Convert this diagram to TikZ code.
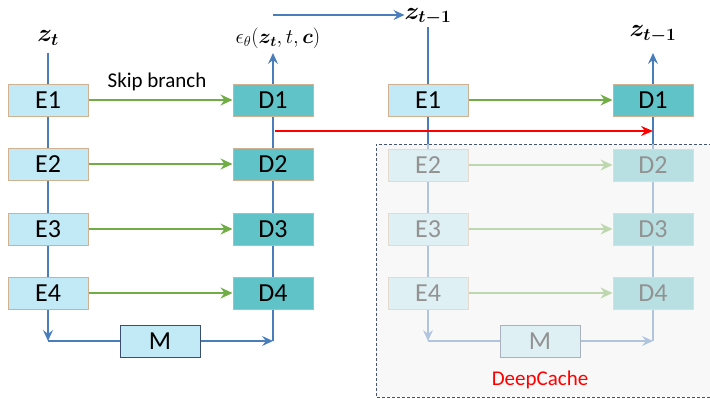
\documentclass[tikz,border=0pt]{standalone}
\usepackage{amsmath,bm}
\usepackage{fontspec}
\setmainfont{Carlito}
\usetikzlibrary{arrows.meta}
\definecolor{efill}{HTML}{C1EAF6}
\definecolor{eline}{HTML}{D2B193}
\definecolor{dfill}{HTML}{5FC3C8}
\definecolor{blueline}{HTML}{4A7EBB}
\definecolor{greenline}{HTML}{70AD47}
\definecolor{mline}{HTML}{3B4E6E}
\definecolor{ovgray}{HTML}{F4F4F4}
\definecolor{dashc}{HTML}{44546A}
\tikzset{
  ebox/.style={draw=eline, line width=1pt, fill=efill, minimum width=80pt, minimum height=32pt, inner sep=0pt, font=\fontsize{26}{28}\selectfont},
  dbox/.style={ebox, fill=dfill},
  mbox/.style={ebox, draw=mline},
  bl/.style={draw=blueline, line width=1.3pt},
  blarrow/.style={bl, -{Stealth[length=11pt,width=10pt,inset=4pt]}},
  grarrow/.style={draw=greenline, line width=1.6pt, -{Stealth[length=12pt,width=11pt,inset=4pt]}},
  redarrow/.style={draw=red, line width=1.3pt, -{Stealth[length=12pt,width=10pt,inset=4pt]}},
  mathlbl/.style={inner sep=0pt, font=\fontsize{20}{22}\selectfont},
  zlbl/.style={inner sep=0pt, font=\fontsize{24}{26}\selectfont},
}
\begin{document}
\begin{tikzpicture}[x=1pt,y=-1pt]
\useasboundingbox (0,0) rectangle (710,399);
% ---------- left network ----------
\node[zlbl] (zt) at (48,38) {$\bm{z_t}$};
\node[mathlbl] (eps) at (278,38) {$\epsilon_\theta(\bm{z_t},t,\bm{c})$};
\foreach \i/\y in {1/100,2/164,3/229,4/293}{
  \node[ebox] (LE\i) at (48,\y) {E\i};
  \node[dbox] (LD\i) at (273,\y) {D\i};
}
\node[mbox] (LM) at (160,341) {M};
\coordinate (Lc1) at (48,341);
\coordinate (Lc2) at (273,341);
\coordinate (ztl) at (48,53);
\coordinate (epsl) at (273,53);
\path[bl] (ztl) -- (LE1.north) (LE1.south) -- (LE2.north) (LE2.south) -- (LE3.north) (LE3.south) -- (LE4.north);
\draw[blarrow] (LE4.south) -- (Lc1);
\draw[bl] (Lc1) -- (LM.west);
\draw[blarrow] (LM.east) -- (Lc2);
\path[bl] (Lc2) -- (LD4.south) (LD4.north) -- (LD3.south) (LD3.north) -- (LD2.south) (LD2.north) -- (LD1.south);
\draw[blarrow] (LD1.north) -- (epsl);
\foreach \i in {1,2,3,4}{ \draw[grarrow] (LE\i.east) -- (LD\i.west); }
\node[inner sep=0pt, font=\fontsize{21}{23}\selectfont] (skip) at (157,82) {Skip branch};
% top arrow
\coordinate (topstart) at (273,15);
\node[zlbl, anchor=base] (zt1a) at (428,19) {$\bm{z_{t-1}}$};
\draw[blarrow] (topstart) -- (zt1a.west |- topstart);
% ---------- right network ----------
\node[zlbl] (zt1b) at (653,34) {$\bm{z_{t-1}}$};
\foreach \i/\y in {1/100,2/165,3/229,4/293}{
  \node[ebox] (RE\i) at (428,\y) {E\i};
  \node[dbox] (RD\i) at (653,\y) {D\i};
}
\node[mbox] (RM) at (540,341) {M};
\coordinate (Rc1) at (428,341);
\coordinate (Rc2) at (653,341);
\coordinate (ztr) at (428,27);
\coordinate (zt1bl) at (653,53);
\path[bl] (ztr) -- (RE1.north) (RE1.south) -- (RE2.north) (RE2.south) -- (RE3.north) (RE3.south) -- (RE4.north);
\draw[blarrow] (RE4.south) -- (Rc1);
\draw[bl] (Rc1) -- (RM.west);
\draw[blarrow] (RM.east) -- (Rc2);
\path[bl] (Rc2) -- (RD4.south) (RD4.north) -- (RD3.south) (RD3.north) -- (RD2.south) (RD2.north) -- (RD1.south);
\draw[blarrow] (RD1.north) -- (zt1bl);
\foreach \i in {1,2,3,4}{ \draw[grarrow] (RE\i.east) -- (RD\i.west); }
% ---------- DeepCache overlay ----------
\fill[ovgray, fill opacity=0.6] (376,144) rectangle (712,397);
\draw[dashc, line width=1pt, dash pattern=on 3pt off 2pt] (712,144) -- (376,144) -- (376,397) -- (712,397);
\node[red, inner sep=0pt, font=\fontsize{21}{23}\selectfont] (dc) at (540,380) {DeepCache};
% red cache arrow
\coordinate (redstart) at (275,131);
\coordinate (redend) at (653,131);
\draw[redarrow] (redstart) -- (redend);
\end{tikzpicture}
\end{document}
